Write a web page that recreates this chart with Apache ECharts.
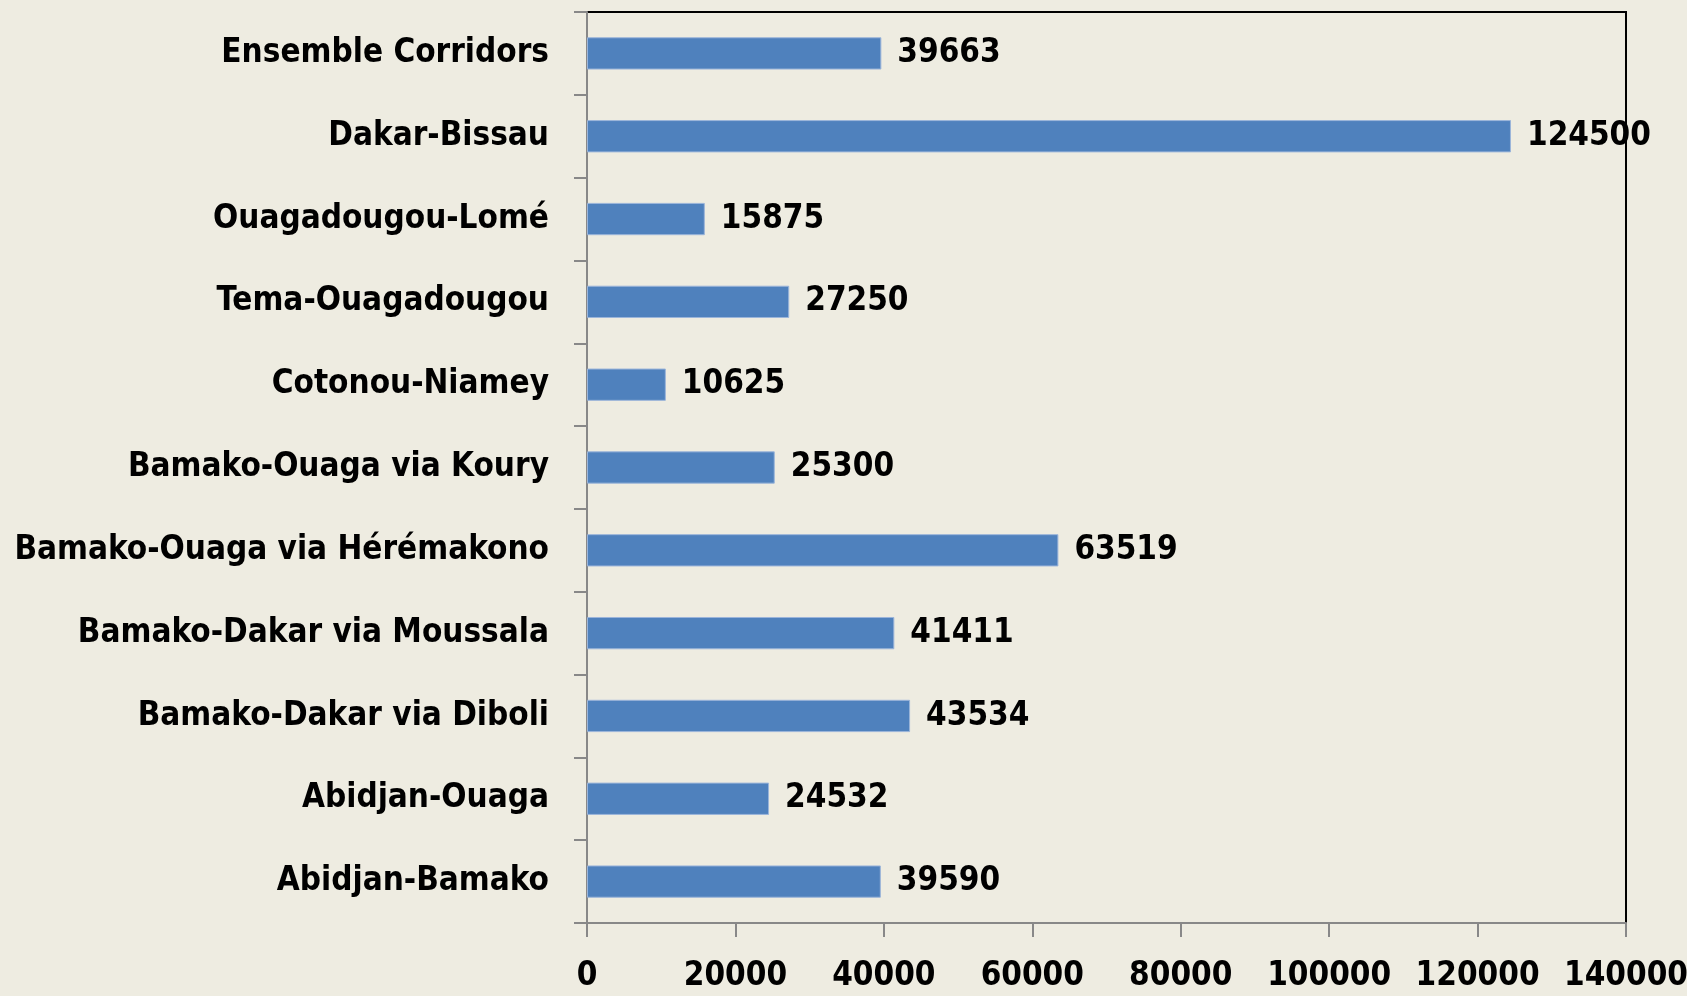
<!DOCTYPE html>
<html>
<head>
<meta charset="utf-8">
<script src="https://cdn.jsdelivr.net/npm/echarts@6/dist/echarts.min.js"></script>
<style>
html,body{margin:0;padding:0;background:#EEECE1;}
#chartmain{width:1687px;height:996px;}
</style>
</head>
<body>
<div id="chartmain"></div>
<script>
// categories, bottom to top
var corridors = ['Abidjan-Bamako','Abidjan-Ouaga','Bamako-Dakar via Diboli','Bamako-Dakar via Moussala',
    'Bamako-Ouaga via Hérémakono','Bamako-Ouaga via Koury','Cotonou-Niamey','Tema-Ouagadougou',
    'Ouagadougou-Lomé','Dakar-Bissau','Ensemble Corridors'];
var valeurs = [39590,24532,43534,41411,63519,25300,10625,27250,15875,124500,39663];
var ticksX = [0,20000,40000,60000,80000,100000,120000,140000];

var police = '"Liberation Sans Narrow","DejaVu Sans Condensed",Arial,sans-serif';

var option = {
    backgroundColor:'#EEECE1',
    animation:false,
    grid:{left:587,right:61,top:12,bottom:73,containLabel:false,outerBoundsMode:'none',
        show:true,borderColor:'#000',borderWidth:2,backgroundColor:'transparent'},
    xAxis:{
        type:'value',
        min:ticksX[0],
        max:ticksX[ticksX.length-1],
        interval:ticksX[1]-ticksX[0],
        splitLine:{show:false},
        axisLine:{show:true,lineStyle:{color:'#888',width:2}},
        axisTick:{show:true,length:14,lineStyle:{color:'#888',width:2}},
        axisLabel:{color:'#000',fontFamily:police,fontWeight:'bold',fontSize:33,margin:37,
            hideOverlap:false,showMaxLabel:true,formatter:function(v){return String(v);}}
    },
    yAxis:{
        type:'category',
        data:corridors,
        axisLine:{show:true,lineStyle:{color:'#888',width:2}},
        axisTick:{show:true,length:13,lineStyle:{color:'#888',width:2}},
        axisLabel:{color:'#000',fontFamily:police,fontWeight:'bold',fontSize:33,margin:38,padding:[6,0,0,0]}
    },
    series:[{
        type:'bar',
        data:valeurs,
        barWidth:'39%',
        itemStyle:{color:'#4F81BD',borderColor:'#9BB5DA',borderWidth:1},
        label:{show:true,position:'right',distance:16,color:'#000',fontFamily:police,fontWeight:'bold',fontSize:33,padding:[6,0,0,0]}
    }]
};

var myChart = echarts.init(document.getElementById('chartmain'));
myChart.setOption(option);
</script>
</body>
</html>
